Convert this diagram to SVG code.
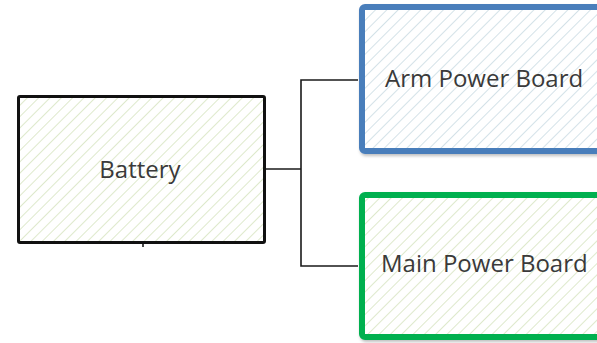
<svg xmlns="http://www.w3.org/2000/svg" width="597" height="343" viewBox="0 0 597 343">
<defs>
<pattern id="hG" width="8" height="8" patternUnits="userSpaceOnUse" patternTransform="rotate(45)">
<rect width="8" height="8" fill="#ffffff"/>
<line x1="0" y1="0" x2="0" y2="8" stroke="#d6e4bf" stroke-width="1.6"/>
</pattern>
<pattern id="hB" width="8" height="8" patternUnits="userSpaceOnUse" patternTransform="rotate(45)">
<rect width="8" height="8" fill="#ffffff"/>
<line x1="0" y1="0" x2="0" y2="8" stroke="#c9dbe2" stroke-width="1.6"/>
</pattern>
<filter id="sh" x="-10%" y="-10%" width="120%" height="130%">
<feDropShadow dx="1" dy="2" stdDeviation="1.5" flood-color="#000" flood-opacity="0.25"/>
</filter>
</defs>
<style>
.lbl{font-family:"Open Sans","DejaVu Sans",sans-serif;font-size:24px;fill:#3a3a3a}
.conn{fill:none;stroke:#1a1a1a;stroke-width:1.6}
</style>
<rect width="597" height="343" fill="#ffffff"/>
<g id="connectors">
<polyline class="conn" points="265,169 301,169"/>
<polyline class="conn" points="358,80 301,80 301,266 358,266"/>
<line class="conn" x1="143" y1="243" x2="143" y2="247"/>
</g>
<g id="battery">
<rect x="18.5" y="96.5" width="246" height="146" rx="1.5" fill="url(#hG)" stroke="#111" stroke-width="3"/>
<text class="lbl" x="140" y="178" text-anchor="middle">Battery</text>
</g>
<g id="arm-power-board">
<rect x="362" y="7" width="250" height="144" rx="3" fill="url(#hB)" stroke="#4a7ebb" stroke-width="6" filter="url(#sh)"/>
<text class="lbl" x="385" y="87">Arm Power Board</text>
</g>
<g id="main-power-board">
<rect x="362" y="195" width="250" height="142" rx="3" fill="url(#hG)" stroke="#00b050" stroke-width="6" filter="url(#sh)"/>
<text class="lbl" x="381" y="272">Main Power Board</text>
</g>
</svg>
